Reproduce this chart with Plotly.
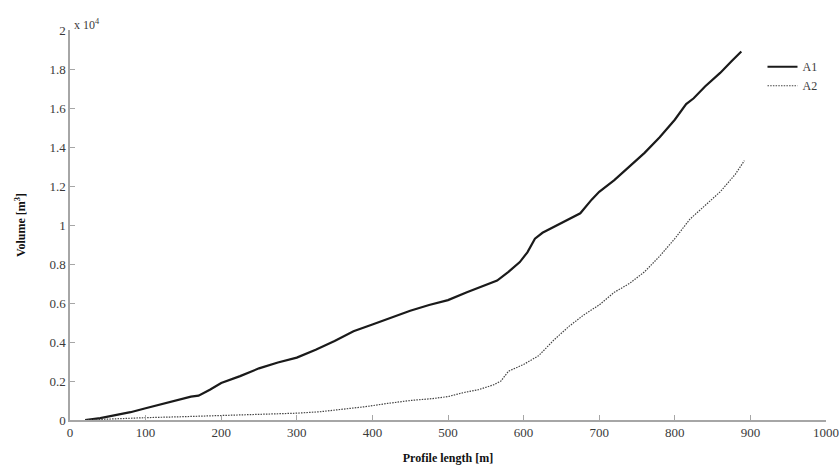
import plotly.graph_objects as go

# Profile length [m] and cumulative volume [m^3]
a1_x = [20, 40, 60, 80, 100, 120, 140, 160, 170, 185, 200, 225, 250, 275, 300, 325, 350, 375,
        400, 425, 450, 475, 500, 525, 550, 565, 580, 595, 605, 615, 625, 640, 660, 675, 690,
        700, 720, 740, 760, 780, 800, 815, 825, 840, 860, 875, 888]
a1_y = [0, 100, 250, 400, 600, 800, 1000, 1200, 1250, 1550, 1900, 2250, 2650, 2950, 3200,
        3600, 4050, 4550, 4900, 5250, 5600, 5900, 6150, 6550, 6900, 7150, 7600, 8100, 8600,
        9300, 9600, 9900, 10300, 10600, 11300, 11700, 12300, 13000, 13700, 14500, 15400,
        16200, 16500, 17100, 17800, 18400, 18900]

a2_x = [20, 50, 100, 150, 200, 250, 300, 330, 360, 390, 420, 450, 480, 500, 520, 540, 560,
        570, 580, 600, 620, 640, 660, 680, 700, 720, 740, 760, 780, 800, 820, 840, 860, 880, 892]
a2_y = [0, 50, 120, 170, 230, 280, 350, 420, 550, 680, 850, 1000, 1100, 1200, 1400, 1550,
        1800, 2000, 2500, 2850, 3300, 4100, 4800, 5400, 5900, 6550, 7000, 7600, 8400, 9300,
        10300, 11000, 11700, 12600, 13300]

x_ticks = [0, 100, 200, 300, 400, 500, 600, 700, 800, 900, 1000]
y_ticks = [0, 2000, 4000, 6000, 8000, 10000, 12000, 14000, 16000, 18000, 20000]
y_tick_labels = ["0", "0.2", "0.4", "0.6", "0.8", "1", "1.2", "1.4", "1.6", "1.8", "2"]

serif = "Liberation Serif, Times New Roman, serif"
axis_gray = "#a6a6a6"
text_col = "#3a3a3a"

fig = go.Figure()
fig.add_trace(go.Scatter(x=a1_x, y=a1_y, mode="lines", name="A1",
                         line=dict(color="#1a1a1a", width=2.2)))
fig.add_trace(go.Scatter(x=a2_x, y=a2_y, mode="lines", name="A2",
                         line=dict(color="#444444", width=1.2, dash="1.5px,1.2px")))

fig.update_layout(
    width=839, height=466,
    margin=dict(l=70, r=13, t=30, b=46),
    paper_bgcolor="white", plot_bgcolor="white",
    font=dict(family=serif, size=12, color=text_col),
    showlegend=True,
    legend=dict(x=0.916, y=0.943, xanchor="left", yanchor="top",
                bgcolor="rgba(0,0,0,0)", itemwidth=30, tracegroupgap=0,
                font=dict(family=serif, size=12, color=text_col)),
    xaxis=dict(range=[0, 1000], tickvals=x_ticks, showgrid=False, zeroline=False,
               automargin=False,
               showline=True, linecolor=axis_gray, linewidth=1.5,
               ticks="inside", ticklen=5, tickcolor=axis_gray,
               tickfont=dict(family=serif, size=13, color=text_col),
               title=dict(text="<b>Profile length [m]</b>", standoff=14,
                          font=dict(family=serif, size=12, color="#111111"))),
    yaxis=dict(range=[0, 20000], tickvals=y_ticks, ticktext=y_tick_labels,
               showgrid=False, zeroline=False, automargin=False,
               showline=True, linecolor=axis_gray, linewidth=1.5,
               ticks="inside", ticklen=5, tickcolor=axis_gray,
               tickfont=dict(family=serif, size=13, color=text_col),
               title=dict(text="<b>Volume [m<sup>3</sup>]</b>", standoff=21,
                          font=dict(family=serif, size=12, color="#111111"))),
    annotations=[dict(x=0, y=1, xref="paper", yref="paper", xanchor="left",
                      yanchor="bottom", xshift=2, yshift=-4, showarrow=False,
                      text="x 10<sup>4</sup>",
                      font=dict(family=serif, size=12, color=text_col))],
)

fig.write_html("out.html",
               config={"displayModeBar": False},
               post_script="document.body.style.margin='0';document.body.style.overflow='hidden';")
